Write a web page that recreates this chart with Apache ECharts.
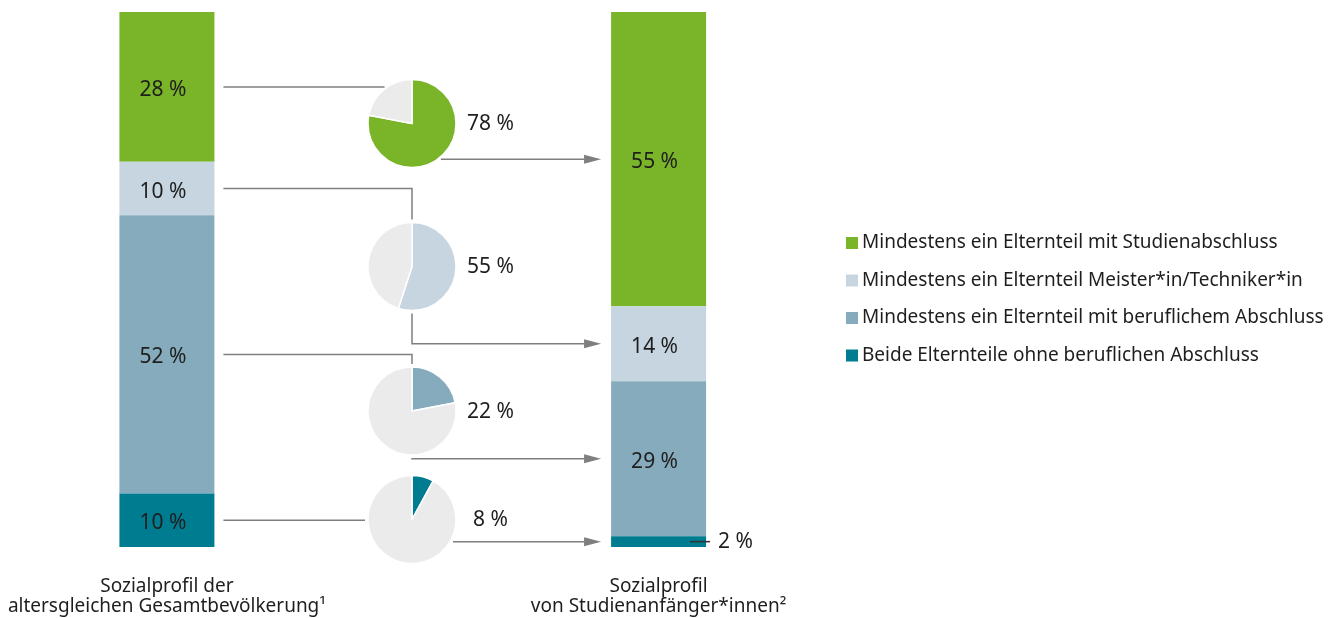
<!DOCTYPE html>
<html>
<head>
<meta charset="utf-8">
<script src="https://cdn.jsdelivr.net/npm/echarts@6/dist/echarts.min.js"></script>
<style>
  html, body { margin: 0; padding: 0; background: #fff; }
  #main { width: 1340px; height: 618px; }
</style>
</head>
<body>
<div id="main"></div>
<script>
// Kategorien (Bildungsherkunft)
var categories = [
  'Mindestens ein Elternteil mit Studienabschluss',
  'Mindestens ein Elternteil Meister*in/Techniker*in',
  'Mindestens ein Elternteil mit beruflichem Abschluss',
  'Beide Elternteile ohne beruflichen Abschluss'
];
// Säulen: links Bevölkerung, Mitte leer (Kreise), rechts Studienanfänger
var groups = ['Sozialprofil der\naltersgleichen Gesamtbevölkerung¹', '', 'Sozialprofil\nvon Studienanfänger*innen²'];
var bevoelkerung = [28, 10, 52, 10];
var studienanfaenger = [55, 14, 29, 2];
// Anteil, der ein Studium aufnimmt (Kreise)
var quote = [78, 55, 22, 8];

var colors = ['#7ab428', '#c6d5e0', '#86abbc', '#007c91'];
var pieRest = '#ebebeb';
var lineColor = '#7f7f7f';
var textColor = '#1e1e1e';
var font = 'Noto Sans';

// Lage der Kreise
var pieX = 412, pieR = 44;
var pieY = [123.5, 266.5, 411, 519.5];

var chart = echarts.init(document.getElementById('main'));

var series = [];
categories.forEach(function (name, i) {
  var rightItem = studienanfaenger[i];
  if (i == 3) {
    // kleiner Wert: Beschriftung rechts neben der Säule (Strich kommt als graphic)
    rightItem = {
      value: studienanfaenger[i],
      label: {
        position: [107, '50%'],
        offset: [0, 0],
        align: 'left',
        verticalAlign: 'middle'
      }
    };
  }
  series.push({
    name: name,
    type: 'bar',
    stack: 'profil',
    barWidth: 95,
    data: [bevoelkerung[i], null, rightItem],
    itemStyle: { color: colors[i] },
    label: {
      show: true,
      position: 'inside',
      offset: [-4, 3],
      formatter: '{c} %',
      fontSize: 21,
      fontFamily: font,
      color: textColor
    }
  });
});

quote.forEach(function (q, i) {
  series.push({
    type: 'pie',
    center: [pieX, pieY[i]],
    radius: pieR,
    startAngle: 90,
    silent: true,
    label: { show: false },
    labelLine: { show: false },
    itemStyle: { borderColor: '#fff', borderWidth: 1.5 },
    data: [
      { value: q, name: categories[i], itemStyle: { color: colors[i] } },
      { value: 100 - q, name: 'rest' + i, itemStyle: { color: pieRest } }
    ]
  });
});

chart.setOption({
  animation: false,
  textStyle: { fontFamily: font },
  grid: { left: 44, width: 737.5, top: 12, height: 535 },
  xAxis: {
    type: 'category',
    data: groups,
    axisLine: { show: false },
    axisTick: { show: false },
    axisLabel: {
      interval: 0,
      margin: 30,
      fontSize: 19,
      lineHeight: 20,
      color: textColor,
      fontFamily: font
    }
  },
  yAxis: { type: 'value', min: 0, max: 100, inverse: true, show: false },
  legend: {
    data: categories,
    orient: 'vertical',
    left: 846,
    top: 233.5,
    padding: 0,
    icon: 'rect',
    itemWidth: 12,
    itemHeight: 12,
    itemGap: 18.5,
    selectedMode: false,
    textStyle: { fontSize: 19, color: textColor, fontFamily: font, padding: [0, 0, 0, -1] }
  },
  series: series
});

// Verbindungslinien und Kreisbeschriftungen
var graphics = [];
var xL = chart.convertToPixel({ xAxisIndex: 0 }, 0);
var xR = chart.convertToPixel({ xAxisIndex: 0 }, 2);
var startX = xL + 47.5 + 9;
var tipX = xR - 47.5 - 10;
var arrowLen = 17, gap = 3;
var accL = 0, accR = 0;

categories.forEach(function (name, i) {
  var yL = chart.convertToPixel({ yAxisIndex: 0 }, accL + bevoelkerung[i] / 2);
  var yR = chart.convertToPixel({ yAxisIndex: 0 }, accR + studienanfaenger[i] / 2);
  accL += bevoelkerung[i];
  accR += studienanfaenger[i];
  var cy = pieY[i];

  var inPts, outPts;
  var dyIn = yL - cy;
  if (Math.abs(dyIn) < pieR) {
    inPts = [[startX, yL], [pieX - Math.sqrt(pieR * pieR - dyIn * dyIn) - gap, yL]];
  } else {
    var s = dyIn < 0 ? -1 : 1;
    inPts = [[startX, yL], [pieX, yL], [pieX, cy + s * (pieR + gap)]];
  }
  var dyOut = yR - cy;
  if (Math.abs(dyOut) < pieR) {
    outPts = [[pieX + Math.sqrt(pieR * pieR - dyOut * dyOut) + gap, yR], [tipX - arrowLen, yR]];
  } else {
    var s2 = dyOut < 0 ? -1 : 1;
    outPts = [[pieX, cy + s2 * (pieR + gap)], [pieX, yR], [tipX - arrowLen, yR]];
  }
  graphics.push({
    type: 'polyline', shape: { points: inPts }, silent: true,
    style: { stroke: lineColor, lineWidth: 1.5, fill: null }
  });
  graphics.push({
    type: 'polyline', shape: { points: outPts }, silent: true,
    style: { stroke: lineColor, lineWidth: 1.5, fill: null }
  });
  graphics.push({
    type: 'polygon', silent: true,
    shape: { points: [[tipX - arrowLen, yR - 4.5], [tipX, yR], [tipX - arrowLen, yR + 4.5]] },
    style: { fill: lineColor }
  });
  graphics.push({
    type: 'text', silent: true,
    x: pieX + 55 + (quote[i] < 10 ? 6 : 0), y: cy + 1,
    style: {
      text: quote[i] + ' %',
      fontSize: 21,
      fontFamily: font,
      fill: textColor,
      verticalAlign: 'middle'
    }
  });
  if (i == 3) {
    // Hinweisstrich zur kleinen Beschriftung, über der Säule
    graphics.push({
      type: 'line', silent: true, z: 100,
      shape: { x1: xR + 47.5 - 16, y1: yR, x2: xR + 47.5 + 4, y2: yR },
      style: { stroke: '#333', lineWidth: 1.5 }
    });
  }
});

chart.setOption({ graphic: graphics });
</script>
</body>
</html>
